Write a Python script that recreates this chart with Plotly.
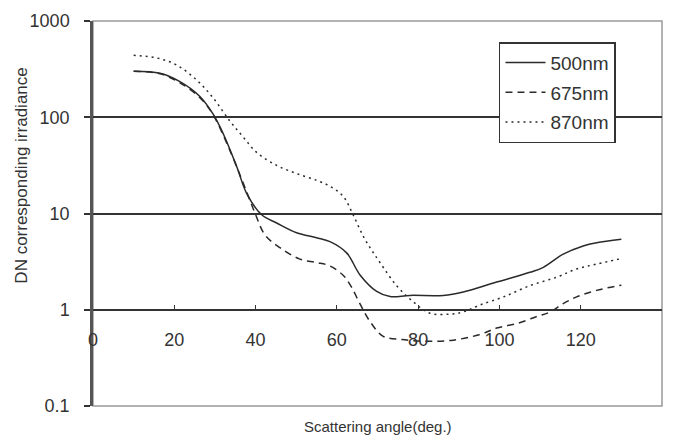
import plotly.graph_objects as go

# Scattering angle (deg.) and DN values for each wavelength
angle_500 = [10, 16.5, 21.4, 26.3, 29.6, 32.1, 35.4, 37.8, 41.5, 45.2, 50.1, 55, 58.3,
             62.4, 65.7, 69.8, 73.1, 78, 86.2, 91.1, 99.3, 107.5, 110.8, 115.7, 120.6,
             123.9, 130]
dn_500 = [300, 286, 234, 164, 107, 66.6, 30.4, 16.2, 9.7, 7.96, 6.3, 5.6, 5.1,
          3.9, 2.3, 1.55, 1.37, 1.41, 1.41, 1.53, 1.94, 2.45, 2.76, 3.78, 4.6,
          4.97, 5.4]

angle_675 = [10, 16.5, 21.4, 26.3, 29.6, 33.7, 37, 39.9, 42.3, 46, 50.9, 55, 58.3,
             61.6, 63.5, 65.7, 68.2, 71.4, 76, 82, 88, 95, 99.3, 104.3, 109.2,
             112.5, 115.7, 119, 123.9, 130]
dn_675 = [300, 283, 228, 160, 105, 45, 20.5, 10, 6.0, 4.42, 3.36, 3.1, 2.85,
          2.27, 1.75, 1.15, 0.75, 0.53, 0.49, 0.47, 0.48, 0.55, 0.645, 0.72, 0.85,
          0.95, 1.16, 1.36, 1.59, 1.8]

angle_870 = [10, 15.7, 20.6, 25.5, 29.6, 33.7, 37, 40.3, 45.2, 50.1, 55, 58.5,
             61.6, 64, 66.5, 68.5, 70.6, 74.7, 78.8, 82.9, 87.8, 91.1, 95.2, 101,
             107.5, 114.1, 119, 123.9, 130]
dn_870 = [440, 413, 348, 244, 158, 91, 62, 43, 31.6, 26, 22.1, 19,
          15, 9.7, 5.8, 4.2, 3.1, 1.78, 1.21, 0.92, 0.9, 0.95, 1.12, 1.36,
          1.78, 2.18, 2.65, 2.98, 3.4]

x_ticks = [0, 20, 40, 60, 80, 100, 120, 140]
y_ticks = [0.1, 1, 10, 100, 1000]
y_tick_text = ["0.1", "1", "10", "100", "1000"]
grid_values = [1, 10, 100]

FONT = "Liberation Sans, Arial, sans-serif"
INK = "#2a2a2a"

fig = go.Figure()
fig.add_trace(go.Scatter(x=angle_500, y=dn_500, name="500nm", mode="lines", legendgroup="a",
                         line=dict(color=INK, width=1.5, dash="solid", shape="spline")))
fig.add_trace(go.Scatter(x=angle_675, y=dn_675, name="675nm", mode="lines", legendgroup="b",
                         line=dict(color=INK, width=1.5, dash="7px,5px", shape="spline")))
fig.add_trace(go.Scatter(x=angle_870, y=dn_870, name="870nm", mode="lines", legendgroup="c",
                         line=dict(color=INK, width=1.5, dash="2px,4px", shape="spline")))
# invisible trace carrying the overlaid grid axis
fig.add_trace(go.Scatter(x=[0], y=[1], yaxis="y2", mode="lines", showlegend=False,
                         hoverinfo="skip", line=dict(width=0)))

fig.update_layout(
    width=673, height=441,
    margin=dict(l=93, r=11, t=15, b=35),
    paper_bgcolor="white", plot_bgcolor="white",
    font=dict(family=FONT, size=18, color="#333"),
    showlegend=True,
    legend=dict(x=0.7135, y=0.945, xanchor="left", yanchor="top",
                bgcolor="white", bordercolor="#333", borderwidth=1.5,
                font=dict(family=FONT, size=19, color="#333"),
                itemwidth=40, tracegroupgap=2),
    xaxis=dict(range=[0, 140], tickvals=x_ticks, ticks="inside", ticklen=4,
               tickcolor="#333", showline=True, linecolor="#333", linewidth=1.5,
               showgrid=False, zeroline=False, anchor="free", position=0.25,
               side="bottom", ticklabelstandoff=14,
               tickfont=dict(family=FONT, size=18, color="#333")),
    yaxis=dict(type="log", range=[-1, 3], tickvals=y_ticks, ticktext=y_tick_text,
               ticks="outside", ticklen=6, tickcolor="#333", tickwidth=1.5,
               showline=True, linecolor="#555", linewidth=2.5, showgrid=False,
               zeroline=False, ticklabelstandoff=11,
               tickfont=dict(family=FONT, size=18, color="#333")),
    yaxis2=dict(type="log", range=[-1, 3], overlaying="y", tickvals=grid_values,
                showticklabels=False, showgrid=True, gridcolor="#333", gridwidth=1.5,
                ticks="", showline=False, zeroline=False),
    shapes=[dict(type="rect", xref="paper", yref="paper", x0=0, x1=1, y0=0, y1=1,
                 line=dict(color="#999", width=1.5), layer="below")],
    annotations=[
        dict(text="Scattering angle(deg.)", xref="paper", yref="paper",
             x=0.5, y=-0.054, showarrow=False, xanchor="center", yanchor="middle",
             font=dict(family=FONT, size=15, color="#333")),
        dict(text="DN corresponding irradiance", xref="paper", yref="paper",
             x=-0.125, y=0.598, showarrow=False, textangle=-90,
             xanchor="center", yanchor="middle",
             font=dict(family=FONT, size=17, color="#333")),
    ],
)

fig.write_html("out.html")
